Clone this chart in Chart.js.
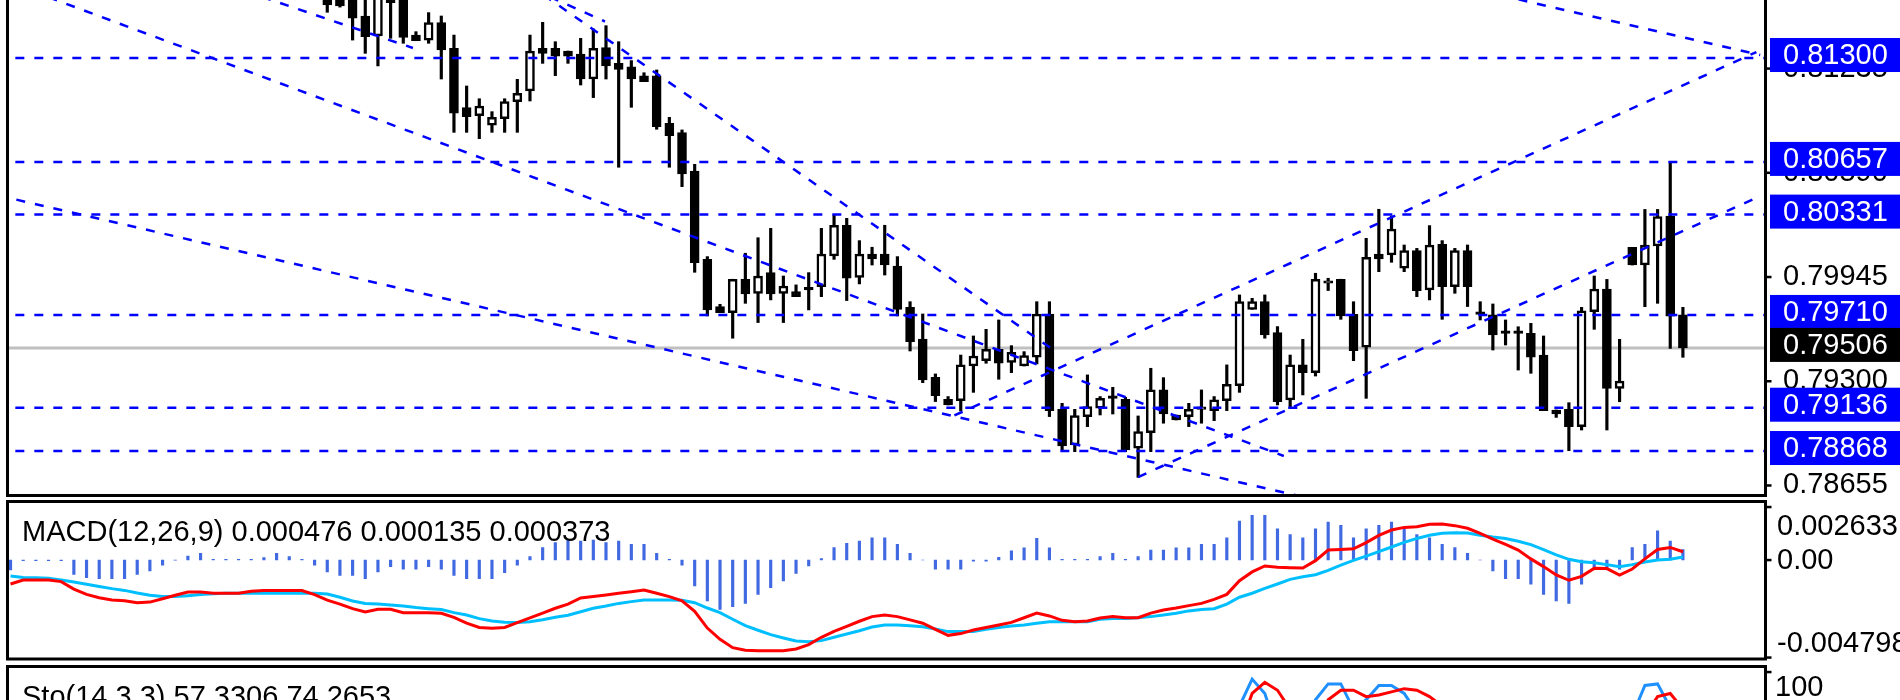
<!DOCTYPE html>
<html>
<head>
<meta charset="utf-8">
<title>Chart</title>
<script src="https://cdn.jsdelivr.net/npm/chart.js@4.4.1/dist/chart.umd.min.js"></script>
<style>
  html, body { margin: 0; padding: 0; width: 1900px; height: 700px; overflow: hidden; background: #fff; }
  canvas { position: absolute; left: 0; }
  #mainChart { top: 0; }
  #macdChart { top: 497px; }
  #stoChart { top: 662px; }
</style>
</head>
<body>
<canvas id="mainChart" width="1900" height="500"></canvas>
<canvas id="macdChart" width="1900" height="166"></canvas>
<canvas id="stoChart" width="1900" height="170"></canvas>
<script>
// --- Price data (one entry per candle, oldest first) ---
const opens = [
  0.81700, 0.81690, 0.81670, 0.81560, 0.81436, 0.81670, 0.81680, 0.81442, 0.81411, 0.81519,
  0.81360, 0.80993, 0.80943, 0.80885, 0.80925, 0.81030, 0.81096, 0.81360, 0.81360, 0.81343,
  0.81325, 0.81170, 0.81364, 0.81267, 0.81246, 0.81189, 0.81189, 0.80896, 0.80838, 0.80601,
  0.80054, 0.79762, 0.79724, 0.79931, 0.79844, 0.79972, 0.79844, 0.79854, 0.79875, 0.79885,
  0.80075, 0.80265, 0.79943, 0.80087, 0.80087, 0.80013, 0.79757, 0.79561, 0.79324, 0.79188,
  0.79180, 0.79394, 0.79427, 0.79497, 0.79417, 0.79394, 0.79448, 0.79716, 0.79126, 0.78905,
  0.79081, 0.79133, 0.79198, 0.79188, 0.78885, 0.78982, 0.79246, 0.79091, 0.79081, 0.79126,
  0.79118, 0.79180, 0.79273, 0.79745, 0.79792, 0.79601, 0.79184, 0.79401, 0.79353, 0.79906,
  0.79931, 0.79714, 0.79510, 0.80087, 0.80081, 0.79999, 0.80108, 0.79865, 0.80147, 0.79885,
  0.80108, 0.79714, 0.79710, 0.79596, 0.79600, 0.79596, 0.79462, 0.79122, 0.79126, 0.79019,
  0.79730, 0.79870, 0.79256, 0.80128, 0.80019, 0.80137, 0.80322, 0.79710
];
const highs = [
  0.81730, 0.81710, 0.81720, 0.81670, 0.81700, 0.81690, 0.81700, 0.81463, 0.81581, 0.81560,
  0.81442, 0.81127, 0.81048, 0.80968, 0.81048, 0.81168, 0.81442, 0.81521, 0.81401, 0.81343,
  0.81422, 0.81480, 0.81500, 0.81401, 0.81284, 0.81209, 0.81226, 0.80933, 0.80855, 0.80642,
  0.80071, 0.79776, 0.79931, 0.80092, 0.80188, 0.80246, 0.79951, 0.79896, 0.79972, 0.80246,
  0.80329, 0.80308, 0.80170, 0.80129, 0.80265, 0.80071, 0.79792, 0.79716, 0.79345, 0.79205,
  0.79462, 0.79580, 0.79621, 0.79679, 0.79520, 0.79483, 0.79792, 0.79792, 0.79163, 0.79126,
  0.79339, 0.79205, 0.79262, 0.79200, 0.79085, 0.79380, 0.79322, 0.79091, 0.79163, 0.79246,
  0.79205, 0.79401, 0.79834, 0.79813, 0.79834, 0.79638, 0.79462, 0.79559, 0.79968, 0.79937,
  0.79931, 0.79792, 0.80184, 0.80364, 0.80323, 0.80143, 0.80122, 0.80263, 0.80170, 0.80122,
  0.80143, 0.79792, 0.79778, 0.79679, 0.79637, 0.79658, 0.79580, 0.79122, 0.79167, 0.79757,
  0.79951, 0.79930, 0.79559, 0.80128, 0.80363, 0.80363, 0.80652, 0.79757
];
const lows = [
  0.81583, 0.81615, 0.81411, 0.81329, 0.81251, 0.81422, 0.81391, 0.81407, 0.81391, 0.81170,
  0.80840, 0.80840, 0.80801, 0.80840, 0.80840, 0.80840, 0.81034, 0.81267, 0.81191, 0.81267,
  0.81133, 0.81055, 0.81170, 0.80624, 0.80995, 0.81154, 0.80859, 0.80624, 0.80504, 0.79974,
  0.79704, 0.79724, 0.79566, 0.79782, 0.79663, 0.79803, 0.79663, 0.79823, 0.79741, 0.79823,
  0.80054, 0.79799, 0.79902, 0.80019, 0.79957, 0.79704, 0.79487, 0.79291, 0.79174, 0.79153,
  0.79116, 0.79231, 0.79411, 0.79312, 0.79353, 0.79394, 0.79407, 0.79081, 0.78875, 0.78864,
  0.79019, 0.79091, 0.79097, 0.78864, 0.78705, 0.78864, 0.79040, 0.79060, 0.79019, 0.79040,
  0.79056, 0.79118, 0.79231, 0.79745, 0.79566, 0.79153, 0.79133, 0.79215, 0.79332, 0.79861,
  0.79683, 0.79427, 0.79194, 0.79978, 0.80036, 0.79978, 0.79823, 0.79803, 0.79683, 0.79844,
  0.79762, 0.79679, 0.79493, 0.79524, 0.79369, 0.79349, 0.79118, 0.79076, 0.78870, 0.78998,
  0.79621, 0.78998, 0.79173, 0.80019, 0.79761, 0.79782, 0.79503, 0.79448
];
const closes = [
  0.81628, 0.81622, 0.81546, 0.81432, 0.81680, 0.81643, 0.81428, 0.81407, 0.81519, 0.81350,
  0.80958, 0.80937, 0.81003, 0.80933, 0.81030, 0.81081, 0.81343, 0.81329, 0.81312, 0.81312,
  0.81170, 0.81360, 0.81251, 0.81230, 0.81170, 0.81154, 0.80875, 0.80819, 0.80582, 0.80034,
  0.79741, 0.79724, 0.79931, 0.79840, 0.79951, 0.79840, 0.79889, 0.79823, 0.79865, 0.80087,
  0.80265, 0.79937, 0.80087, 0.80056, 0.80019, 0.79745, 0.79545, 0.79308, 0.79211, 0.79153,
  0.79401, 0.79456, 0.79497, 0.79411, 0.79478, 0.79458, 0.79716, 0.79118, 0.78899, 0.79087,
  0.79143, 0.79194, 0.79194, 0.78875, 0.78988, 0.79246, 0.79097, 0.79060, 0.79126, 0.79130,
  0.79184, 0.79281, 0.79792, 0.79792, 0.79586, 0.79174, 0.79401, 0.79353, 0.79931, 0.79910,
  0.79704, 0.79489, 0.80067, 0.80056, 0.80242, 0.80108, 0.79861, 0.80143, 0.79885, 0.80108,
  0.79885, 0.79714, 0.79586, 0.79596, 0.79596, 0.79448, 0.79118, 0.79097, 0.79019, 0.79736,
  0.79870, 0.79256, 0.79301, 0.80019, 0.80143, 0.80318, 0.79703, 0.79506
];

// horizontal levels, bid line and price-axis ticks
const levelPrices = [0.81300, 0.80657, 0.80331, 0.79710, 0.79136, 0.78868];
const bidPrice = 0.79506;
const priceTicks = [0.81235, 0.80590, 0.79945, 0.79300, 0.78655];

// trend lines: [startBar, startPrice, endBar, endPrice]
const trendLines = [
  [-22, 0.81676, 75.5, 0.78837],
  [-26, 0.80450, 80, 0.78530],
  [17.08, 0.81690, 57.43, 0.79487],
  [17.58, 0.81678, 21.92, 0.81526],
  [-5.14, 0.81678, 6.76, 0.81362],
  [49.5, 0.79088, 112.8, 0.81337],
  [64, 0.78707, 113.2, 0.80449],
  [92.56, 0.81689, 113.1, 0.81319]
];

// --- MACD(12,26,9), first value is bar -25 ---
const MACD_FIRST = -25;
const macdHist = [
  -0.00045, -0.00003, -0.00003, -0.00003, -0.00003, -0.00065, -0.00080, -0.00085, -0.00085, -0.00085,
  -0.00065, -0.00050, -0.00024, -0.00001, 0.00018, 0.00030, 0.00003, 0.00003, 0.00003, 0.00003,
  0.00011, 0.00030, 0.00015, 0.00003, -0.00024, -0.00054, -0.00070, -0.00070, -0.00085, -0.00054,
  -0.00030, -0.00042, -0.00042, -0.00030, -0.00042, -0.00070, -0.00085, -0.00085, -0.00085, -0.00057,
  -0.00024, 0.00015, 0.00056, 0.00079, 0.00091, 0.00086, 0.00091, 0.00079, 0.00086, 0.00071,
  0.00071, 0.00030, 0.00003, -0.00024, -0.00118, -0.00186, -0.00224, -0.00212, -0.00197, -0.00156,
  -0.00126, -0.00095, -0.00061, -0.00027, 0.00006, 0.00056, 0.00076, 0.00086, 0.00101, 0.00101,
  0.00071, 0.00030, 0.00000, -0.00042, -0.00042, -0.00042, -0.00005, -0.00005, 0.00012, 0.00042,
  0.00055, 0.00098, 0.00055, 0.00003, 0.00003, 0.00003, 0.00015, 0.00030, 0.00003, 0.00015,
  0.00045, 0.00045, 0.00055, 0.00055, 0.00071, 0.00071, 0.00101, 0.00177, 0.00203, 0.00203,
  0.00142, 0.00116, 0.00101, 0.00142, 0.00172, 0.00157, 0.00101, 0.00142, 0.00157, 0.00172,
  0.00142, 0.00116, 0.00101, 0.00071, 0.00056, 0.00030, 0.00000, -0.00050, -0.00085, -0.00085,
  -0.00110, -0.00156, -0.00186, -0.00197, -0.00110, -0.00042, -0.00035, -0.00042, 0.00056, 0.00071,
  0.00132, 0.00086, 0.000476
];
const macdRed = [
  -0.00109, -0.00091, -0.00091, -0.00091, -0.00098, -0.00132, -0.00156, -0.00171, -0.00182, -0.00185,
  -0.00194, -0.00191, -0.00176, -0.00160, -0.00145, -0.00145, -0.00151, -0.00151, -0.00151, -0.00142,
  -0.00139, -0.00139, -0.00139, -0.00139, -0.00157, -0.00182, -0.00200, -0.00221, -0.00236, -0.00224,
  -0.00224, -0.00239, -0.00239, -0.00239, -0.00242, -0.00260, -0.00287, -0.00306, -0.00310, -0.00306,
  -0.00284, -0.00263, -0.00241, -0.00219, -0.00200, -0.00172, -0.00166, -0.00159, -0.00151, -0.00144,
  -0.00136, -0.00151, -0.00166, -0.00185, -0.00233, -0.00309, -0.00360, -0.00398, -0.00410, -0.00412,
  -0.00412, -0.00412, -0.00404, -0.00384, -0.00351, -0.00324, -0.00301, -0.00278, -0.00257, -0.00250,
  -0.00257, -0.00272, -0.00287, -0.00315, -0.00342, -0.00334, -0.00318, -0.00306, -0.00295, -0.00283,
  -0.00262, -0.00241, -0.00254, -0.00274, -0.00280, -0.00277, -0.00263, -0.00257, -0.00262, -0.00262,
  -0.00241, -0.00227, -0.00218, -0.00207, -0.00197, -0.00179, -0.00156, -0.00094, -0.00054, -0.00027,
  -0.00033, -0.00035, -0.00036, -0.00003, 0.00045, 0.00048, 0.00051, 0.00079, 0.00112, 0.00136,
  0.00148, 0.00151, 0.00162, 0.00163, 0.00156, 0.00144, 0.00121, 0.00095, 0.00071, 0.00045,
  0.00005, -0.00030, -0.00068, -0.00092, -0.00074, -0.00038, -0.00039, -0.00068, -0.00041, 0.00005,
  0.00048, 0.00057, 0.000373
];
const macdBlue = [
  -0.00073, -0.00079, -0.00080, -0.00083, -0.00091, -0.00100, -0.00110, -0.00120, -0.00130, -0.00138,
  -0.00150, -0.00160, -0.00166, -0.00166, -0.00162, -0.00157, -0.00153, -0.00151, -0.00151, -0.00151,
  -0.00151, -0.00151, -0.00151, -0.00151, -0.00151, -0.00154, -0.00169, -0.00186, -0.00197, -0.00200,
  -0.00204, -0.00209, -0.00216, -0.00221, -0.00225, -0.00239, -0.00250, -0.00266, -0.00277, -0.00283,
  -0.00284, -0.00280, -0.00271, -0.00260, -0.00251, -0.00235, -0.00219, -0.00209, -0.00197, -0.00189,
  -0.00182, -0.00182, -0.00182, -0.00183, -0.00194, -0.00218, -0.00239, -0.00269, -0.00298, -0.00319,
  -0.00339, -0.00354, -0.00368, -0.00371, -0.00366, -0.00351, -0.00336, -0.00321, -0.00304, -0.00295,
  -0.00295, -0.00298, -0.00303, -0.00313, -0.00325, -0.00325, -0.00325, -0.00315, -0.00306, -0.00300,
  -0.00295, -0.00287, -0.00280, -0.00280, -0.00280, -0.00280, -0.00269, -0.00265, -0.00265, -0.00262,
  -0.00257, -0.00250, -0.00242, -0.00231, -0.00225, -0.00221, -0.00200, -0.00169, -0.00151, -0.00129,
  -0.00109, -0.00088, -0.00076, -0.00067, -0.00047, -0.00023, -0.00002, 0.00018, 0.00038, 0.00059,
  0.00080, 0.00098, 0.00112, 0.00121, 0.00124, 0.00123, 0.00112, 0.00104, 0.00098, 0.00085,
  0.00070, 0.00047, 0.00023, 0.00003, -0.00008, -0.00012, -0.00021, -0.00030, -0.00021, -0.00009,
  0.00000, 0.00003, 0.000135
];
const macdTicks = ['0.002633', '0.00', '-0.004798'];

// --- Stochastic(14,3,3), one value per candle ---
const stoMain = [
  35, 30, 24, 20, 30, 38, 30, 22, 28, 26,
  15, 12, 14, 13, 20, 28, 45, 55, 58, 56,
  50, 58, 54, 48, 42, 38, 22, 14, 8, 5,
  4, 6, 15, 20, 28, 30, 32, 30, 32, 42,
  58, 50, 56, 60, 58, 45, 28, 14, 8, 6,
  15, 24, 30, 28, 32, 35, 48, 35, 18, 15,
  20, 24, 26, 18, 14, 30, 32, 34, 38, 40,
  44, 55, 76, 93, 84, 60, 50, 55, 80, 90,
  90, 74, 80, 89, 89, 84, 72, 68, 62, 58,
  52, 40, 34, 30, 28, 22, 12, 8, 6, 32,
  46, 38, 44, 70, 89, 90, 75, 57.3306
];
const stoSignal = [
  40, 34, 30, 25, 25, 29, 33, 30, 27, 25,
  23, 18, 14, 13, 15, 20, 31, 43, 53, 56,
  55, 55, 54, 53, 48, 43, 34, 25, 15, 9,
  6, 5, 8, 14, 21, 26, 30, 31, 31, 35,
  44, 50, 55, 55, 58, 54, 44, 29, 17, 9,
  10, 15, 23, 27, 30, 32, 38, 39, 34, 23,
  18, 20, 23, 23, 19, 21, 25, 32, 35, 37,
  40, 46, 62, 84, 91, 86, 74, 60, 62, 80,
  86, 86, 82, 83, 85, 87, 86, 82, 76, 70,
  62, 52, 42, 34, 31, 27, 21, 14, 9, 15,
  28, 38, 43, 55, 70, 82, 84, 74.2653
];

const FONT = '29px "Liberation Sans", Arial, sans-serif';
const X_MIN = -25.12, X_MAX = 113.4;
const LEVEL_BLUE = '#0000ff';

function frame(chart) {
  const { ctx, chartArea: a } = chart;
  ctx.save();
  ctx.strokeStyle = '#000';
  ctx.lineWidth = 3;
  ctx.strokeRect(a.left - 1.5, a.top - 1.5, a.right - a.left + 3, a.bottom - a.top + 3);
  ctx.restore();
}

function tickMark(ctx, x, y) {
  ctx.fillStyle = '#000';
  ctx.fillRect(x, y - 1.2, 6, 2.5);
}

function xAxis() {
  return { type: 'linear', min: X_MIN, max: X_MAX, offset: false, display: false };
}

const baseOptions = {
  responsive: false,
  maintainAspectRatio: false,
  animation: false,
  events: [],
  devicePixelRatio: 1,
  plugins: { legend: { display: false }, tooltip: { enabled: false } }
};

// --- 1. Main price panel ---
const bars = opens.map((_, i) => i);
const bodies = bars.map(i => ({ x: i, y: [Math.min(opens[i], closes[i]), Math.max(opens[i], closes[i])] }));
const wicks = bars.map(i => ({ x: i, y: [lows[i], highs[i]] }));
const bodyFill = bars.map(i => closes[i] > opens[i] ? '#ffffff' : '#000000');

const dashed = (data) => ({
  type: 'line', data, borderColor: LEVEL_BLUE, borderWidth: 2.5, borderDash: [9, 10],
  pointRadius: 0, fill: false, tension: 0, order: 1
});

const mainDatasets = [
  { type: 'bar', data: bodies, backgroundColor: bodyFill, borderColor: '#000', borderWidth: 2.5,
    borderSkipped: false, barThickness: 9, minBarLength: 2.5, grouped: false, order: 2 },
  { type: 'bar', data: wicks, backgroundColor: '#000', borderWidth: 0, barThickness: 2.5,
    grouped: false, order: 3 },
  { type: 'line', data: [{ x: X_MIN - 1, y: bidPrice }, { x: X_MAX + 1, y: bidPrice }],
    borderColor: '#c0c0c0', borderWidth: 3, pointRadius: 0, order: 4 }
];
levelPrices.forEach(p => mainDatasets.push(dashed([{ x: X_MIN - 1, y: p }, { x: X_MAX + 1, y: p }])));
trendLines.forEach(t => mainDatasets.push(dashed([{ x: t[0], y: t[1] }, { x: t[2], y: t[3] }])));

const mainPlugin = {
  id: 'mainPanel',
  afterDraw(chart) {
    const { ctx, chartArea: a, scales: { y } } = chart;
    frame(chart);
    ctx.save();
    ctx.font = FONT;
    ctx.textBaseline = 'middle';
    ctx.textAlign = 'left';
    priceTicks.forEach(p => {
      const py = y.getPixelForValue(p);
      tickMark(ctx, a.right + 1.5, py);
      ctx.fillStyle = '#000';
      ctx.fillText(p.toFixed(5), 1783, py);
    });
    const boxes = levelPrices.map(p => [p, LEVEL_BLUE]).concat([[bidPrice, '#000000']]);
    boxes.forEach(([p, col]) => {
      const py = y.getPixelForValue(p) - 3;
      ctx.fillStyle = col;
      ctx.fillRect(1770, py - 17, 130, 34);
      ctx.fillStyle = '#fff';
      ctx.fillText(p.toFixed(5), 1783, py + 1);
    });
    ctx.restore();
  }
};

new Chart(document.getElementById('mainChart'), {
  type: 'bar',
  data: { datasets: mainDatasets },
  options: Object.assign({}, baseOptions, {
    layout: { padding: { left: 9, right: 136, top: 0, bottom: 6 } },
    scales: {
      x: xAxis(),
      y: { type: 'linear', min: 0.78602, max: 0.81659, bounds: 'data', display: false }
    }
  }),
  plugins: [mainPlugin]
});

// --- 2. MACD panel ---
const macdX = macdHist.map((_, i) => i + MACD_FIRST);
const macdPlugin = {
  id: 'macdPanel',
  afterDraw(chart) {
    const { ctx, chartArea: a, scales: { y } } = chart;
    frame(chart);
    ctx.save();
    ctx.font = FONT;
    ctx.fillStyle = '#000';
    ctx.textBaseline = 'alphabetic';
    ctx.fillText('MACD(12,26,9) 0.000476 0.000135 0.000373', 22, 44);
    ctx.textBaseline = 'middle';
    const zero = y.getPixelForValue(0);
    tickMark(ctx, a.right + 1.5, a.top + 4);
    tickMark(ctx, a.right + 1.5, zero);
    tickMark(ctx, a.right + 1.5, a.bottom);
    ctx.fillText(macdTicks[0], 1777, a.top + 24);
    ctx.fillText(macdTicks[1], 1777, zero + 1);
    ctx.fillText(macdTicks[2], 1777, a.bottom - 14);
    ctx.restore();
  }
};

new Chart(document.getElementById('macdChart'), {
  type: 'bar',
  data: {
    datasets: [
      { type: 'line', data: macdX.map((x, i) => ({ x, y: macdRed[i] })), borderColor: '#ff0000',
        borderWidth: 3, pointRadius: 0, tension: 0, order: 1 },
      { type: 'line', data: macdX.map((x, i) => ({ x, y: macdBlue[i] })), borderColor: '#00bfff',
        borderWidth: 3, pointRadius: 0, tension: 0, order: 2 },
      { type: 'bar', data: macdX.map((x, i) => ({ x, y: macdHist[i] })), backgroundColor: '#4169e1',
        barThickness: 2.5, grouped: false, order: 3 }
    ]
  },
  options: Object.assign({}, baseOptions, {
    layout: { padding: { left: 9, right: 136, top: 6, bottom: 5.5 } },
    scales: {
      x: xAxis(),
      y: { type: 'linear', min: -0.004426, max: 0.002588, bounds: 'data', display: false }
    }
  }),
  plugins: [macdPlugin]
});

// --- 3. Stochastic panel (only its top shows) ---
const stoPlugin = {
  id: 'stoPanel',
  afterDraw(chart) {
    const { ctx, chartArea: a } = chart;
    frame(chart);
    ctx.save();
    ctx.font = FONT;
    ctx.fillStyle = '#000';
    ctx.textBaseline = 'alphabetic';
    ctx.fillText('Sto(14,3,3) 57.3306 74.2653', 22, 44);
    ctx.textBaseline = 'middle';
    tickMark(ctx, a.right + 1.5, a.top + 4);
    ctx.fillText('100', 1775, 26);
    ctx.restore();
  }
};

new Chart(document.getElementById('stoChart'), {
  type: 'line',
  data: {
    datasets: [
      { data: bars.map(i => ({ x: i, y: stoSignal[i] })), borderColor: '#ff0000', borderWidth: 3,
        pointRadius: 0, tension: 0, order: 1 },
      { data: bars.map(i => ({ x: i, y: stoMain[i] })), borderColor: '#1e90ff', borderWidth: 3,
        pointRadius: 0, tension: 0, order: 2 }
    ]
  },
  options: Object.assign({}, baseOptions, {
    layout: { padding: { left: 9, right: 136, top: 6, bottom: 5 } },
    scales: {
      x: xAxis(),
      y: { type: 'linear', min: 0, max: 100, bounds: 'data', display: false }
    }
  }),
  plugins: [stoPlugin]
});
</script>
</body>
</html>
